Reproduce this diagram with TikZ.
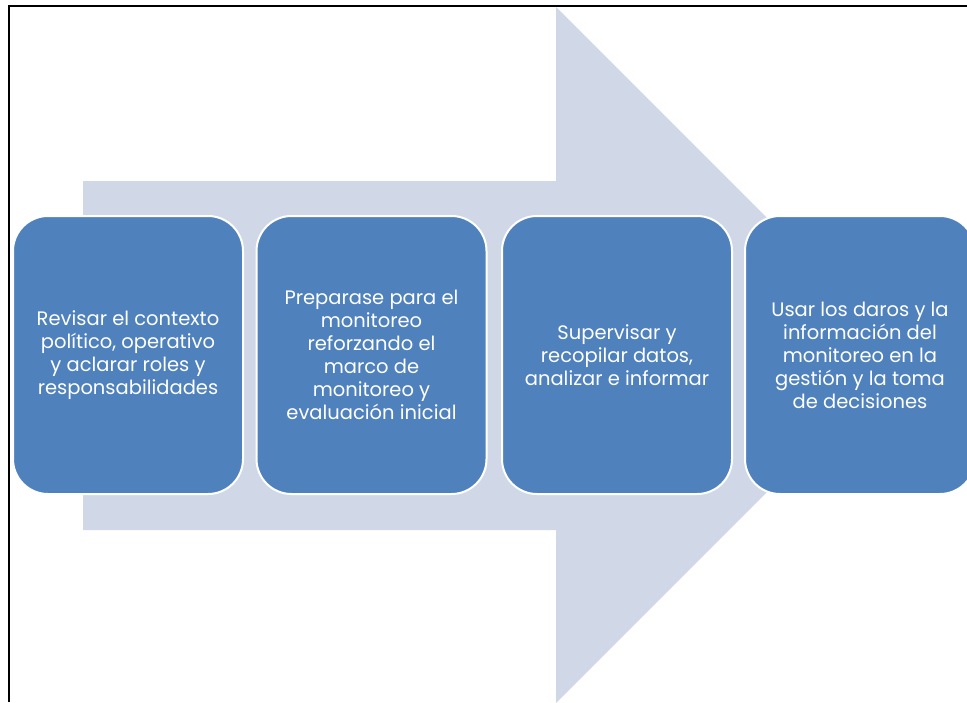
\documentclass[tikz,border=0pt]{standalone}
\usepackage{fontspec}
\setmainfont{Poppins}
\definecolor{boxblue}{HTML}{4F81BD}
\definecolor{arrowgray}{HTML}{D0D8E8}
\begin{document}
\begin{tikzpicture}[x=1pt,y=-1pt,
  stepbox/.style={draw=white, line width=2pt, fill=boxblue, rounded corners=35pt,
    minimum width=230pt, minimum height=278pt, text=white, align=center,
    font=\fontsize{19.5}{23}\selectfont, inner sep=0pt}]
\useasboundingbox (0,0) rectangle (967,702);
\begin{scope}
\clip (0,0) rectangle (967,702);
\fill[white] (0,0) rectangle (967,702);
% big background arrow
\fill[arrowgray] (83,181) -- (556,181) -- (556,7) -- (904,355) -- (556,703)
  -- (556,530) -- (83,530) -- cycle;
\node[stepbox] (s1) at (128,355) {Revisar el contexto\\pol\'{\i}tico, operativo\\y aclarar roles y\\responsabilidades};
\node[stepbox] (s2) at (371.5,355) {Preparase para el\\monitoreo\\reforzando el\\marco de\\monitoreo y\\evaluación inicial};
\node[stepbox] (s3) at (617,355) {Supervisar y\\recopilar datos,\\analizar e informar};
\node[stepbox] (s4) at (860,355) {Usar los daros y la\\información del\\monitoreo en la\\gestión y la toma\\de decisiones};
% frame
\draw[black, line width=2.5pt] (9,702) -- (9,6) -- (967,6);
\end{scope}
\end{tikzpicture}
\end{document}
